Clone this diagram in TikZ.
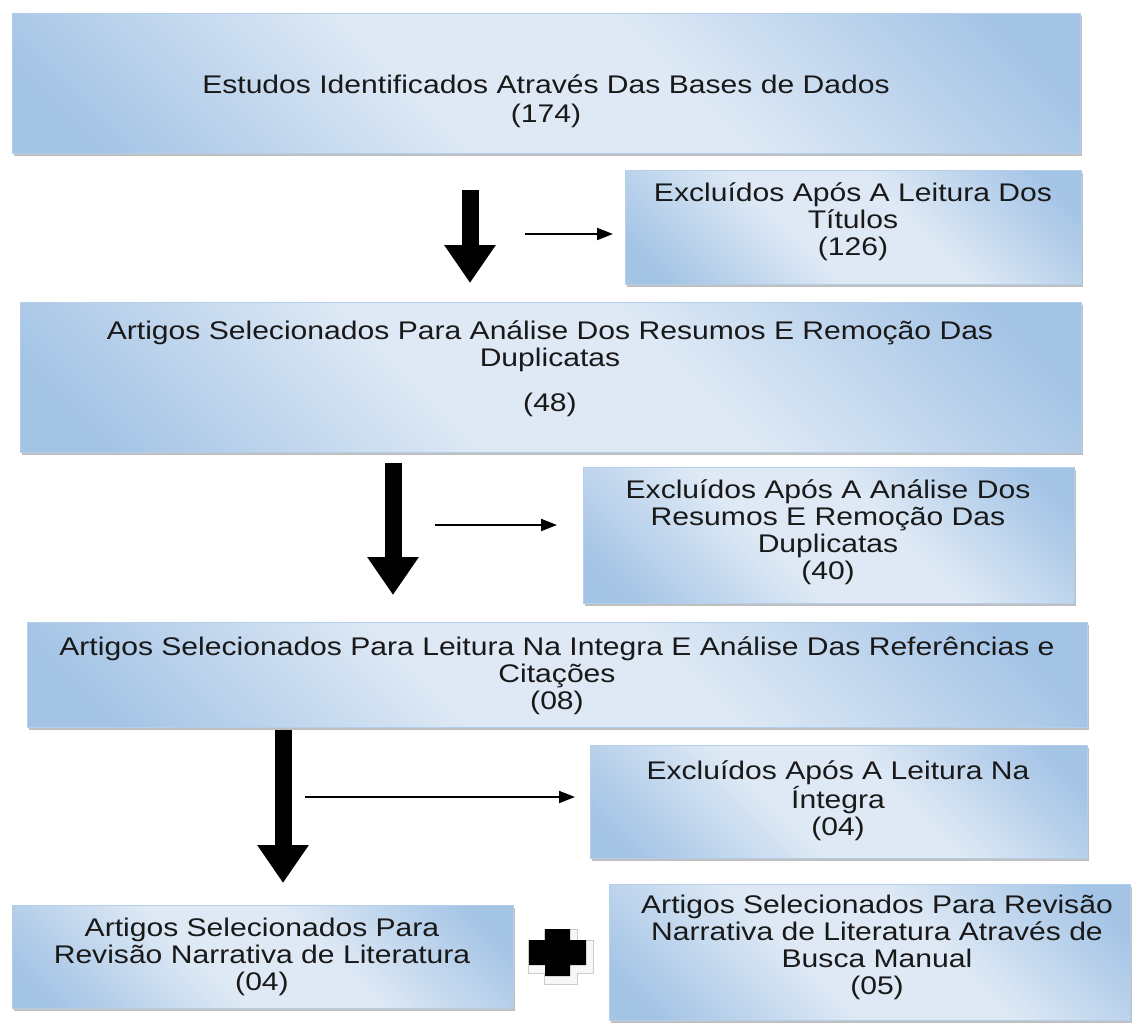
\documentclass[tikz,border=0pt]{standalone}
\usepackage{fontspec}
\setmainfont{Liberation Sans}[FakeStretch=1.18]
\usetikzlibrary{arrows.meta,shadows}
\definecolor{bxlt}{HTML}{DEE9F5}
\definecolor{bxdk}{HTML}{A4C4E6}
\definecolor{bxline}{HTML}{B4CFEA}
\pgfdeclareverticalshading{boxshade}{100bp}{color(0bp)=(bxdk); color(20bp)=(bxdk); color(42bp)=(bxlt); color(58bp)=(bxlt); color(80bp)=(bxdk); color(100bp)=(bxdk)}
\begin{document}
\begin{tikzpicture}[x=1pt,y=-1pt,
  box/.style={draw=bxline, line width=0.8pt, shade, shading=boxshade, shading angle=-45,
    anchor=north west, inner sep=0pt,
    drop shadow={shadow xshift=2pt, shadow yshift=-2.5pt, fill=black!45, opacity=0.55}},
  txt/.style={align=center, inner sep=0pt, anchor=north, font=\fontsize{25.5}{27}\selectfont,
    text=black!90, execute at begin node={\rule{0pt}{25pt}}},
  bigarrow/.style={line width=17pt, -{Triangle[width=49pt,length=38pt]}},
  smallarrow/.style={line width=2pt, -{Triangle[width=12pt,length=16pt]}}]
\useasboundingbox[fill=white] (0,0) rectangle (1140,1023);

% boxes
\node[box, minimum width=1068pt, minimum height=140pt] (b1) at (12,13) {};
\node[box, minimum width=456pt,  minimum height=114pt] (b2) at (625,170) {};
\node[box, minimum width=1061pt, minimum height=150pt] (b3) at (20,302) {};
\node[box, minimum width=491pt,  minimum height=136pt] (b4) at (583,467) {};
\node[box, minimum width=1060pt, minimum height=105pt] (b5) at (27,622) {};
\node[box, minimum width=497pt,  minimum height=113pt] (b6) at (590,745) {};
\node[box, minimum width=501pt,  minimum height=103pt] (b7) at (12,905) {};
\node[box, minimum width=521pt,  minimum height=136pt] (b8) at (609,884) {};

% texts
\node[txt] (t1) at (546,75) {Estudos Identificados Através Das Bases de Dados\\[2pt](174)};
\node[txt] (t2) at (853,183) {Excluídos Após A Leitura Dos\\Títulos\\(126)};
\node[txt] (t3) at (550,321) {Artigos Selecionados Para Análise Dos Resumos E Remoção Das\\Duplicatas\\[18pt](48)};
\node[txt] (t4) at (828,480) {Excluídos Após A Análise Dos\\Resumos E Remoção Das\\Duplicatas\\(40)};
\node[txt] (t5) at (557,637) {Artigos Selecionados Para Leitura Na Integra E Análise Das Referências e\\Citações\\(08)};
\node[txt] (t6) at (838,761) {Excluídos Após A Leitura Na\\Íntegra\\(04)};
\node[txt] (t7) at (262,918) {Artigos Selecionados Para\\Revisão Narrativa de Literatura\\(04)};
\node[txt] (t8) at (877,895) {Artigos Selecionados Para Revisão\\Narrativa de Literatura Através de\\Busca Manual\\(05)};

% arrow end points
\coordinate (a1s) at (470,190); \coordinate (a1e) at (470,283);
\coordinate (s1s) at (525,234); \coordinate (s1e) at (613,234);
\coordinate (a2s) at (393,463); \coordinate (a2e) at (393,595);
\coordinate (s2s) at (435,525); \coordinate (s2e) at (557,525);
\coordinate (a3s) at (283,730); \coordinate (a3e) at (283,883);
\coordinate (s3s) at (305,797); \coordinate (s3e) at (575,797);

\draw[bigarrow] (a1s) -- (a1e);
\draw[smallarrow] (s1s) -- (s1e);
\draw[bigarrow] (a2s) -- (a2e);
\draw[smallarrow] (s2s) -- (s2e);
\draw[bigarrow] (a3s) -- (a3e);
\draw[smallarrow] (s3s) -- (s3e);

% plus sign
\def\crosspath{(529,940) -- (545,940) -- (545,929) -- (570,929) -- (570,940) -- (586,940) -- (586,965) -- (570,965) -- (570,976) -- (545,976) -- (545,965) -- (529,965) -- cycle}
\begin{scope}[shift={(3,4)}]
  \draw[gray!40, line width=9pt, line join=miter] \crosspath;
  \filldraw[white!94!gray, line width=7pt, line join=miter] \crosspath;
\end{scope}
\fill[black] \crosspath;
\end{tikzpicture}
\end{document}
